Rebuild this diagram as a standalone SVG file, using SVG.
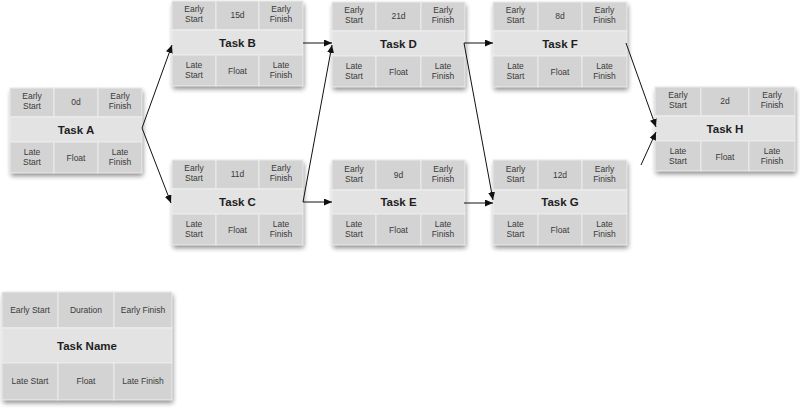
<svg xmlns="http://www.w3.org/2000/svg" width="800" height="414" viewBox="0 0 800 414">
<defs>
<style>
.bg{fill:#ececec;}
.cell{fill:#d3d3d3;stroke:#ececec;stroke-width:1;}
.mid{fill:#e3e3e3;stroke:#efefef;stroke-width:1;}
.t{font-family:"Liberation Sans",Arial,sans-serif;font-size:8.5px;fill:#3a3a3a;text-anchor:middle;}
.n{font-family:"Liberation Sans",Arial,sans-serif;font-size:11.5px;font-weight:bold;fill:#1e1e1e;text-anchor:middle;}
.c{fill:none;stroke:#111;stroke-width:1;marker-end:url(#ah);}
</style>
<filter id="sh" x="-10%" y="-10%" width="125%" height="130%">
<feGaussianBlur in="SourceAlpha" stdDeviation="2.5"/>
<feOffset dx="1" dy="3" result="b"/>
<feComponentTransfer><feFuncA type="linear" slope="0.45"/></feComponentTransfer>
<feMerge><feMergeNode/><feMergeNode in="SourceGraphic"/></feMerge>
</filter>
<marker id="ah" markerUnits="userSpaceOnUse" markerWidth="8" markerHeight="7" refX="8" refY="3.5" orient="auto">
<path d="M0,0 L8,3.5 L0,7 z" fill="#111"/>
</marker>
</defs>

<g id="taskA" transform="translate(10,88)">
<rect class="bg" width="132" height="85" filter="url(#sh)"/>
<rect class="cell" x="0" y="0" width="44" height="29"/><rect class="cell" x="44" y="0" width="44" height="29"/><rect class="cell" x="88" y="0" width="44" height="29"/>
<rect class="mid" x="0" y="29" width="132" height="25"/>
<rect class="cell" x="0" y="54" width="44" height="31"/><rect class="cell" x="44" y="54" width="44" height="31"/><rect class="cell" x="88" y="54" width="44" height="31"/>
<text class="t" x="22" y="11">Early</text><text class="t" x="22" y="20.5">Start</text>
<text class="t" x="66" y="16.5">0d</text>
<text class="t" x="110" y="11">Early</text><text class="t" x="110" y="20.5">Finish</text>
<text class="n" x="66" y="46">Task A</text>
<text class="t" x="22" y="67">Late</text><text class="t" x="22" y="77">Start</text>
<text class="t" x="66" y="72.5">Float</text>
<text class="t" x="110" y="67">Late</text><text class="t" x="110" y="77">Finish</text>
</g>

<g id="taskB" transform="translate(172,1)">
<rect class="bg" width="131" height="85" filter="url(#sh)"/>
<rect class="cell" x="0" y="0" width="44" height="29"/><rect class="cell" x="44" y="0" width="43" height="29"/><rect class="cell" x="87" y="0" width="44" height="29"/>
<rect class="mid" x="0" y="29" width="131" height="25"/>
<rect class="cell" x="0" y="54" width="44" height="31"/><rect class="cell" x="44" y="54" width="43" height="31"/><rect class="cell" x="87" y="54" width="44" height="31"/>
<text class="t" x="22" y="11">Early</text><text class="t" x="22" y="20.5">Start</text>
<text class="t" x="65.5" y="16.5">15d</text>
<text class="t" x="109" y="11">Early</text><text class="t" x="109" y="20.5">Finish</text>
<text class="n" x="65.5" y="46">Task B</text>
<text class="t" x="22" y="67">Late</text><text class="t" x="22" y="77">Start</text>
<text class="t" x="65.5" y="72.5">Float</text>
<text class="t" x="109" y="67">Late</text><text class="t" x="109" y="77">Finish</text>
</g>

<g id="taskC" transform="translate(172,160)">
<rect class="bg" width="131" height="85" filter="url(#sh)"/>
<rect class="cell" x="0" y="0" width="44" height="29"/><rect class="cell" x="44" y="0" width="43" height="29"/><rect class="cell" x="87" y="0" width="44" height="29"/>
<rect class="mid" x="0" y="29" width="131" height="25"/>
<rect class="cell" x="0" y="54" width="44" height="31"/><rect class="cell" x="44" y="54" width="43" height="31"/><rect class="cell" x="87" y="54" width="44" height="31"/>
<text class="t" x="22" y="11">Early</text><text class="t" x="22" y="20.5">Start</text>
<text class="t" x="65.5" y="16.5">11d</text>
<text class="t" x="109" y="11">Early</text><text class="t" x="109" y="20.5">Finish</text>
<text class="n" x="65.5" y="46">Task C</text>
<text class="t" x="22" y="67">Late</text><text class="t" x="22" y="77">Start</text>
<text class="t" x="65.5" y="72.5">Float</text>
<text class="t" x="109" y="67">Late</text><text class="t" x="109" y="77">Finish</text>
</g>

<g id="taskD" transform="translate(332,2)">
<rect class="bg" width="133" height="85" filter="url(#sh)"/>
<rect class="cell" x="0" y="0" width="44" height="29"/><rect class="cell" x="44" y="0" width="45" height="29"/><rect class="cell" x="89" y="0" width="44" height="29"/>
<rect class="mid" x="0" y="29" width="133" height="25"/>
<rect class="cell" x="0" y="54" width="44" height="31"/><rect class="cell" x="44" y="54" width="45" height="31"/><rect class="cell" x="89" y="54" width="44" height="31"/>
<text class="t" x="22" y="11">Early</text><text class="t" x="22" y="20.5">Start</text>
<text class="t" x="66.5" y="16.5">21d</text>
<text class="t" x="111" y="11">Early</text><text class="t" x="111" y="20.5">Finish</text>
<text class="n" x="66.5" y="46">Task D</text>
<text class="t" x="22" y="67">Late</text><text class="t" x="22" y="77">Start</text>
<text class="t" x="66.5" y="72.5">Float</text>
<text class="t" x="111" y="67">Late</text><text class="t" x="111" y="77">Finish</text>
</g>

<g id="taskE" transform="translate(332,160)">
<rect class="bg" width="133" height="85" filter="url(#sh)"/>
<rect class="cell" x="0" y="0" width="44" height="30"/><rect class="cell" x="44" y="0" width="45" height="30"/><rect class="cell" x="89" y="0" width="44" height="30"/>
<rect class="mid" x="0" y="30" width="133" height="24"/>
<rect class="cell" x="0" y="54" width="44" height="31"/><rect class="cell" x="44" y="54" width="45" height="31"/><rect class="cell" x="89" y="54" width="44" height="31"/>
<text class="t" x="22" y="12">Early</text><text class="t" x="22" y="21.5">Start</text>
<text class="t" x="66.5" y="17.5">9d</text>
<text class="t" x="111" y="12">Early</text><text class="t" x="111" y="21.5">Finish</text>
<text class="n" x="66.5" y="46">Task E</text>
<text class="t" x="22" y="67">Late</text><text class="t" x="22" y="77">Start</text>
<text class="t" x="66.5" y="72.5">Float</text>
<text class="t" x="111" y="67">Late</text><text class="t" x="111" y="77">Finish</text>
</g>

<g id="taskF" transform="translate(493,2)">
<rect class="bg" width="134" height="85" filter="url(#sh)"/>
<rect class="cell" x="0" y="0" width="45" height="29"/><rect class="cell" x="45" y="0" width="44" height="29"/><rect class="cell" x="89" y="0" width="45" height="29"/>
<rect class="mid" x="0" y="29" width="134" height="25"/>
<rect class="cell" x="0" y="54" width="45" height="31"/><rect class="cell" x="45" y="54" width="44" height="31"/><rect class="cell" x="89" y="54" width="45" height="31"/>
<text class="t" x="22.5" y="11">Early</text><text class="t" x="22.5" y="20.5">Start</text>
<text class="t" x="67" y="16.5">8d</text>
<text class="t" x="111.5" y="11">Early</text><text class="t" x="111.5" y="20.5">Finish</text>
<text class="n" x="67" y="46">Task F</text>
<text class="t" x="22.5" y="67">Late</text><text class="t" x="22.5" y="77">Start</text>
<text class="t" x="67" y="72.5">Float</text>
<text class="t" x="111.5" y="67">Late</text><text class="t" x="111.5" y="77">Finish</text>
</g>

<g id="taskG" transform="translate(493,160)">
<rect class="bg" width="134" height="85" filter="url(#sh)"/>
<rect class="cell" x="0" y="0" width="45" height="30"/><rect class="cell" x="45" y="0" width="44" height="30"/><rect class="cell" x="89" y="0" width="45" height="30"/>
<rect class="mid" x="0" y="30" width="134" height="24"/>
<rect class="cell" x="0" y="54" width="45" height="31"/><rect class="cell" x="45" y="54" width="44" height="31"/><rect class="cell" x="89" y="54" width="45" height="31"/>
<text class="t" x="22.5" y="12">Early</text><text class="t" x="22.5" y="21.5">Start</text>
<text class="t" x="67" y="17.5">12d</text>
<text class="t" x="111.5" y="12">Early</text><text class="t" x="111.5" y="21.5">Finish</text>
<text class="n" x="67" y="46">Task G</text>
<text class="t" x="22.5" y="67">Late</text><text class="t" x="22.5" y="77">Start</text>
<text class="t" x="67" y="72.5">Float</text>
<text class="t" x="111.5" y="67">Late</text><text class="t" x="111.5" y="77">Finish</text>
</g>

<g id="taskH" transform="translate(655,87)">
<rect class="bg" width="140" height="84" filter="url(#sh)"/>
<rect class="cell" x="0" y="0" width="46" height="29"/><rect class="cell" x="46" y="0" width="48" height="29"/><rect class="cell" x="94" y="0" width="46" height="29"/>
<rect class="mid" x="0" y="29" width="140" height="25"/>
<rect class="cell" x="0" y="54" width="46" height="30"/><rect class="cell" x="46" y="54" width="48" height="30"/><rect class="cell" x="94" y="54" width="46" height="30"/>
<text class="t" x="23" y="11">Early</text><text class="t" x="23" y="20.5">Start</text>
<text class="t" x="70" y="16.5">2d</text>
<text class="t" x="117" y="11">Early</text><text class="t" x="117" y="20.5">Finish</text>
<text class="n" x="70" y="46">Task H</text>
<text class="t" x="23" y="67">Late</text><text class="t" x="23" y="77">Start</text>
<text class="t" x="70" y="72.5">Float</text>
<text class="t" x="117" y="67">Late</text><text class="t" x="117" y="77">Finish</text>
</g>

<g id="legend" transform="translate(2,292)">
<rect class="bg" width="170" height="108" filter="url(#sh)"/>
<rect class="cell" x="0" y="0" width="56" height="36"/><rect class="cell" x="56" y="0" width="56" height="36"/><rect class="cell" x="112" y="0" width="58" height="36"/>
<rect class="mid" x="0" y="36" width="170" height="35"/>
<rect class="cell" x="0" y="71" width="56" height="37"/><rect class="cell" x="56" y="71" width="56" height="37"/><rect class="cell" x="112" y="71" width="58" height="37"/>
<text class="t" x="28" y="21">Early Start</text>
<text class="t" x="84" y="21">Duration</text>
<text class="t" x="141" y="21">Early Finish</text>
<text class="n" x="85" y="58">Task Name</text>
<text class="t" x="28" y="92">Late Start</text>
<text class="t" x="84" y="92">Float</text>
<text class="t" x="141" y="92">Late Finish</text>
</g>

<g id="connectors">
<path class="c" d="M142,128 L172,45"/>
<path class="c" d="M142,128 L171,203"/>
<path class="c" d="M303,43 L332,43"/>
<path class="c" d="M303,202 L332,45"/>
<path class="c" d="M303,202 L332,202"/>
<path class="c" d="M464,43 L493,43"/>
<path class="c" d="M464,43 L493,200"/>
<path class="c" d="M464,203 L493,203"/>
<path class="c" d="M626,43 L656,127"/>
<path class="c" d="M641,165 L656,132"/>
</g>
</svg>
